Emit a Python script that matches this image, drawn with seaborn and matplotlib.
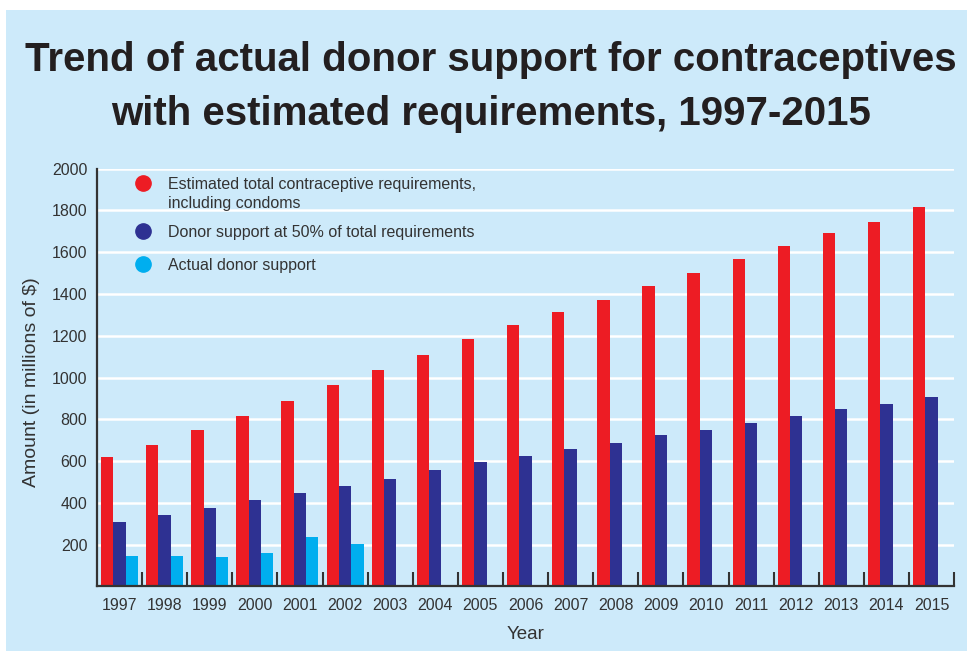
import seaborn as sns
import matplotlib.pyplot as plt
import numpy as np
import pandas as pd
from matplotlib.patches import Rectangle

# Data (millions of $)
years = [str(y) for y in range(1997, 2016)]
estimated_total = [620, 677, 749, 816, 888, 965, 1036, 1108, 1185, 1252,
                   1314, 1371, 1438, 1500, 1568, 1630, 1692, 1745, 1817]
donor_50pct = [310, 342, 376, 414, 448, 481, 515, 558, 596, 625,
               658, 687, 725, 749, 783, 816, 850, 874, 907]
actual_support = [146, 146, 141, 160, 238, 203] + [np.nan] * 13

series_names = ['Estimated total contraceptive requirements,\nincluding condoms',
                'Donor support at 50% of total requirements',
                'Actual donor support']
colors = ['#ed1c24', '#2e3192', '#00aeef']
yticks = list(range(200, 2001, 200))

bg = '#cdeafa'
dark = '#333333'

df = pd.DataFrame({
    'Year': years * 3,
    'Amount': estimated_total + donor_50pct + actual_support,
    'Series': [series_names[0]] * 19 + [series_names[1]] * 19 + [series_names[2]] * 19,
})

sns.set_theme(style='white')
plt.rcParams['font.family'] = ['Liberation Sans', 'DejaVu Sans']

fig = plt.figure(figsize=(9.67, 6.51), dpi=100, facecolor='white')
fig.add_artist(Rectangle((6 / 967, 0), 1, 1 - 10 / 651, transform=fig.transFigure,
                         facecolor=bg, edgecolor='none', zorder=-10))
ax = fig.add_axes([0.1003, 0.0991, 0.8863, 0.6418])
ax.set_facecolor(bg)

sns.barplot(data=df, x='Year', y='Amount', hue='Series', hue_order=series_names,
            palette=colors, width=0.82, saturation=1, errorbar=None,
            linewidth=0, edgecolor='none', legend=False, ax=ax, zorder=3)

# axes styling
ax.set_xlim(-0.5, 18.5)
ax.set_ylim(0, 2000)
ax.set_yticks(yticks)
ax.set_yticklabels([str(v) for v in yticks], fontsize=11.5, color=dark)
ax.tick_params(axis='y', length=0, pad=7)
ax.tick_params(axis='x', which='major', length=0, pad=8, labelsize=11.5, labelcolor=dark)
ax.set_xticks(np.arange(0.5, 19, 1), minor=True)
ax.tick_params(axis='x', which='minor', bottom=True, direction='in', length=10,
               width=1.5, color=dark)
ax.yaxis.grid(True, color='white', linewidth=1.8, zorder=0)
ax.set_axisbelow(True)
for s in ['top', 'right']:
    ax.spines[s].set_visible(False)
for s in ['left', 'bottom']:
    ax.spines[s].set_color(dark)
    ax.spines[s].set_linewidth(1.6)
    ax.spines[s].set_zorder(6)

ax.set_xlabel('Year', fontsize=13.5, color=dark)
ax.xaxis.set_label_coords(0.5, -0.095)
ax.set_ylabel('Amount (in millions of $)', fontsize=14, color=dark)
ax.yaxis.set_label_coords(-0.066, 0.49)

# legend (drawn by hand to match the original layout)
leg_y = [0.966, 0.8516, 0.772]
for name, c, y in zip(series_names, colors, leg_y):
    ax.plot([0.0537], [y], marker='o', markersize=11, color=c, linestyle='none',
            transform=ax.transAxes, clip_on=False, zorder=5)
    ax.text(0.0829, y + 0.014, name, transform=ax.transAxes, fontsize=11.5,
            color=dark, va='top', ha='left', linespacing=1.3, zorder=5)

fig.text(0.508, 1 - 41 / 651,
         'Trend of actual donor support for contraceptives\nwith estimated requirements, 1997-2015',
         ha='center', va='top', fontsize=29, fontweight='bold', color='#231f20',
         linespacing=1.52)

fig.savefig('out.png', dpi=100, facecolor=fig.get_facecolor())
